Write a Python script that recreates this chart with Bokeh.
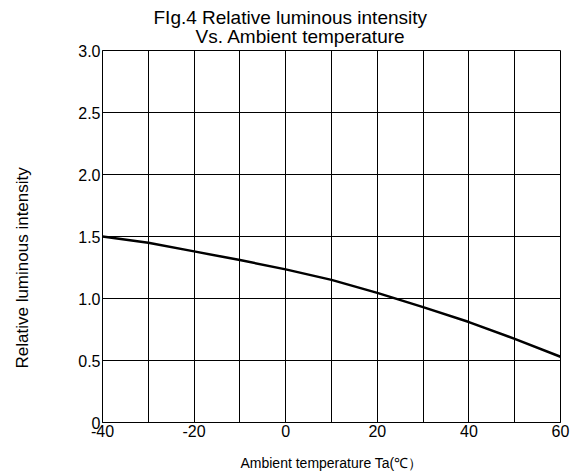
from bokeh.plotting import figure
from bokeh.models import FixedTicker, Title
from bokeh.embed import file_html
from bokeh.resources import INLINE

# ---- data ----
temperature = [-40, -30, -20, -10, 0, 10, 20, 30, 40, 50, 60]
rel_intensity = [1.50, 1.45, 1.38, 1.31, 1.235, 1.15, 1.045, 0.93, 0.81, 0.675, 0.53]

x_tick_values = [-40, -20, 0, 20, 40, 60]
x_tick_labels = ["-40", "-20", "0", "20", "40", "60"]
x_grid_values = [-40, -30, -20, -10, 0, 10, 20, 30, 40, 50, 60]
y_tick_values = [0, 0.5, 1.0, 1.5, 2.0, 2.5, 3.0]
y_tick_labels = ["0", "0.5", "1.0", "1.5", "2.0", "2.5", "3.0"]

title_line1 = "FIg.4 Relative luminous intensity"
title_line2 = "Vs. Ambient temperature"
x_label = "Ambient temperature Ta(\u2103\uff09"
y_label = "Relative luminous intensity"

x_start, x_end = -40, 60
y_start, y_end = 0, 3.0

FONT = "Liberation Sans"

p = figure(width=572, height=474, x_range=(x_start, x_end), y_range=(y_start, y_end),
           output_backend="svg", toolbar_location=None, title=None,
           min_border_left=102, min_border_right=12, min_border_top=50, min_border_bottom=52)
p.background_fill_color = "white"
p.border_fill_color = "white"
p.outline_line_color = "black"

# grid
p.xgrid.ticker = FixedTicker(ticks=x_grid_values)
p.ygrid.ticker = FixedTicker(ticks=y_tick_values)
p.grid.grid_line_color = "black"
p.grid.grid_line_alpha = 1.0
p.grid.grid_line_width = 1

# axes
for ax in (p.xaxis, p.yaxis):
    ax.axis_line_color = "black"
    ax.major_tick_out = 0
    ax.major_tick_in = 0
    ax.minor_tick_out = 0
    ax.minor_tick_in = 0
    ax.major_label_text_font = FONT
    ax.major_label_text_font_size = "16px"
    ax.major_label_text_color = "black"
    ax.major_label_standoff = 2

p.xaxis.ticker = FixedTicker(ticks=x_tick_values)
p.xaxis.major_label_overrides = {v: s for v, s in zip(x_tick_values, x_tick_labels)}
p.yaxis.ticker = FixedTicker(ticks=y_tick_values)
p.yaxis.major_label_overrides = {v: s for v, s in zip(y_tick_values, y_tick_labels)}

p.xaxis.axis_label = x_label
p.xaxis.axis_label_text_font = FONT
p.xaxis.axis_label_text_font_size = "14px"
p.xaxis.axis_label_text_font_style = "normal"
p.xaxis.axis_label_text_color = "black"
p.xaxis.axis_label_standoff = 15

# curve
p.line(temperature, rel_intensity, line_color="black", line_width=2.5)

# titles (two lines, stacked above the frame)
t2 = Title(text=title_line2, align="left", offset=93, standoff=8,
           text_font=FONT, text_font_size="19px", text_font_style="normal", text_color="black")
t1 = Title(text=title_line1, align="left", offset=51, standoff=-16,
           text_font=FONT, text_font_size="19px", text_font_style="normal", text_color="black")
p.add_layout(t2, "above")
p.add_layout(t1, "above")

# y axis title on the left (extra empty lines reserve space so it sits further left)
ty = Title(text=y_label + "\n\n", align="left", offset=54, standoff=8, vertical_align="top",
           text_font=FONT, text_font_size="17px", text_font_style="normal", text_color="black")
p.add_layout(ty, "left")

open("out.html", "w").write(file_html(p, INLINE))
